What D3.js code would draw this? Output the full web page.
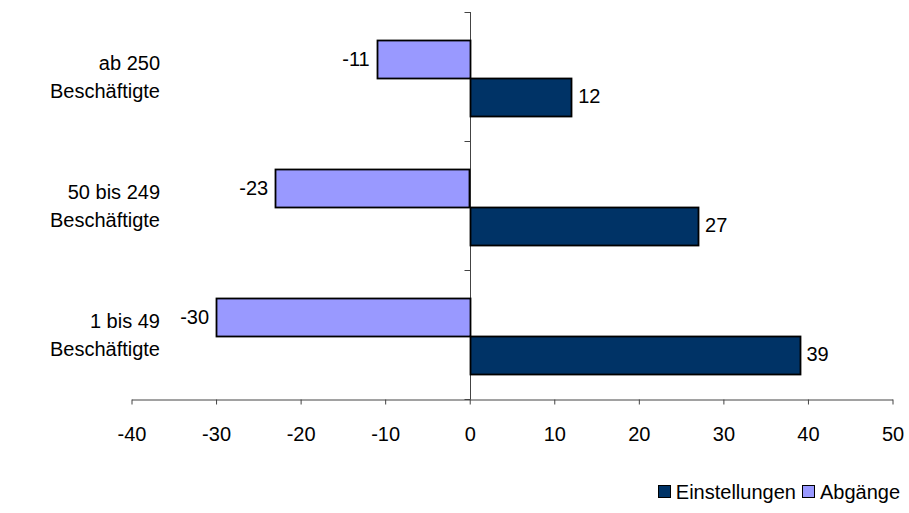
<!DOCTYPE html>
<html>
<head>
<meta charset="utf-8">
<script src="https://cdn.jsdelivr.net/npm/d3@7"></script>
<style>
  html, body { margin: 0; padding: 0; background: #fff; }
  svg text { font-family: "Liberation Sans", Arial, sans-serif; fill: #000; }
</style>
</head>
<body>
<svg id="chart" width="909" height="513"></svg>
<script>
// ---- data ----
const categories = ["ab 250", "50 bis 249", "1 bis 49"];
const categoryLines = [["ab 250", "Beschäftigte"], ["50 bis 249", "Beschäftigte"], ["1 bis 49", "Beschäftigte"]];
const seriesNames = ["Abgänge", "Einstellungen"];
const abgaenge = [-11, -23, -30];
const einstellungen = [12, 27, 39];
const xTicks = [-40, -30, -20, -10, 0, 10, 20, 30, 40, 50];
const legendOrder = ["Einstellungen", "Abgänge"];
const colors = { "Abgänge": "#9999FF", "Einstellungen": "#003366" };

// ---- layout ----
const svg = d3.select("#chart");
const fontSize = 20;
const x = d3.scaleLinear().domain([-40, 50]).range([131.5, 892.5]);
const y = d3.scaleBand().domain(categories).range([12, 399]).padding(0);
const inner = d3.scaleBand().domain(seriesNames).range([28, 103]).padding(0);

const rows = [];
categories.forEach((c, i) => {
  rows.push({ cat: c, series: "Abgänge", value: abgaenge[i] });
  rows.push({ cat: c, series: "Einstellungen", value: einstellungen[i] });
});

// y axis (vertical line at zero with category separators)
const yAxisG = svg.append("g").attr("transform", `translate(${Math.round(x(0)) + 0.5},0)`);
yAxisG.append("line").attr("x1", 0).attr("x2", 0).attr("y1", 12).attr("y2", 399.5)
  .attr("stroke", "#444").attr("stroke-width", 1);
const sepVals = categories.map(c => y(c)).concat([y(categories[categories.length - 1]) + y.bandwidth()]);
yAxisG.selectAll("line.sep").data(sepVals).enter().append("line")
  .attr("class", "sep")
  .attr("x1", -6).attr("x2", 0)
  .attr("y1", d => Math.round(d) + 0.5).attr("y2", d => Math.round(d) + 0.5)
  .attr("stroke", "#444");

// x axis
const xAxis = d3.axisBottom(x).tickValues(xTicks).tickSize(5).tickSizeOuter(0).tickPadding(22)
  .tickFormat(d => String(d));
const xg = svg.append("g").attr("transform", "translate(0,399.5)").call(xAxis);
xg.select(".domain").attr("stroke", "#444");
xg.selectAll(".tick line").attr("stroke", "#444");
xg.selectAll(".tick text").attr("font-size", fontSize).attr("font-family", "Liberation Sans, Arial, sans-serif").attr("fill", "#000");

// bars
svg.append("g").selectAll("rect").data(rows).enter().append("rect")
  .attr("x", d => Math.round(Math.min(x(0), x(d.value))) + 0.5)
  .attr("y", d => Math.round(y(d.cat) + inner(d.series)) + 0.5)
  .attr("width", d => Math.round(Math.abs(x(d.value) - x(0))))
  .attr("height", Math.round(inner.bandwidth()))
  .attr("fill", d => colors[d.series])
  .attr("stroke", "#000")
  .attr("stroke-width", 1.8);

// value labels
svg.append("g").selectAll("text").data(rows).enter().append("text")
  .attr("x", d => d.value < 0 ? x(d.value) - 7 : x(d.value) + 7)
  .attr("y", d => y(d.cat) + inner(d.series) + inner.bandwidth() / 2)
  .attr("dy", "0.35em")
  .attr("text-anchor", d => d.value < 0 ? "end" : "start")
  .attr("font-size", fontSize)
  .text(d => d.value);

// category labels
const catG = svg.append("g");
categories.forEach((c, i) => {
  const cy = y(c) + y.bandwidth() / 2 + 0.5;
  const t = catG.append("text").attr("text-anchor", "end").attr("font-size", fontSize);
  categoryLines[i].forEach((ln, j) => {
    t.append("tspan").attr("x", 160).attr("y", cy + (j === 0 ? -14 : 14)).attr("dy", "0.35em").text(ln);
  });
});

// legend (right-aligned near the chart's right edge)
const lg = svg.append("g").attr("transform", "translate(0,492)");
const items = [];
legendOrder.forEach(name => {
  const rect = lg.append("rect").attr("y", -6.5).attr("width", 12).attr("height", 12)
    .attr("fill", colors[name]).attr("stroke", "#000").attr("stroke-width", 1);
  const t = lg.append("text").attr("y", 0).attr("dy", "0.35em")
    .attr("font-size", fontSize).text(name);
  items.push({ rect, t, w: t.node().getComputedTextLength() });
});
let rx = 900;
for (let k = items.length - 1; k >= 0; k--) {
  const it = items[k];
  it.t.attr("x", rx - it.w);
  it.rect.attr("x", Math.round(rx - it.w - 18) + 0.5);
  rx = rx - it.w - 18 - 6;
}
</script>
</body>
</html>
